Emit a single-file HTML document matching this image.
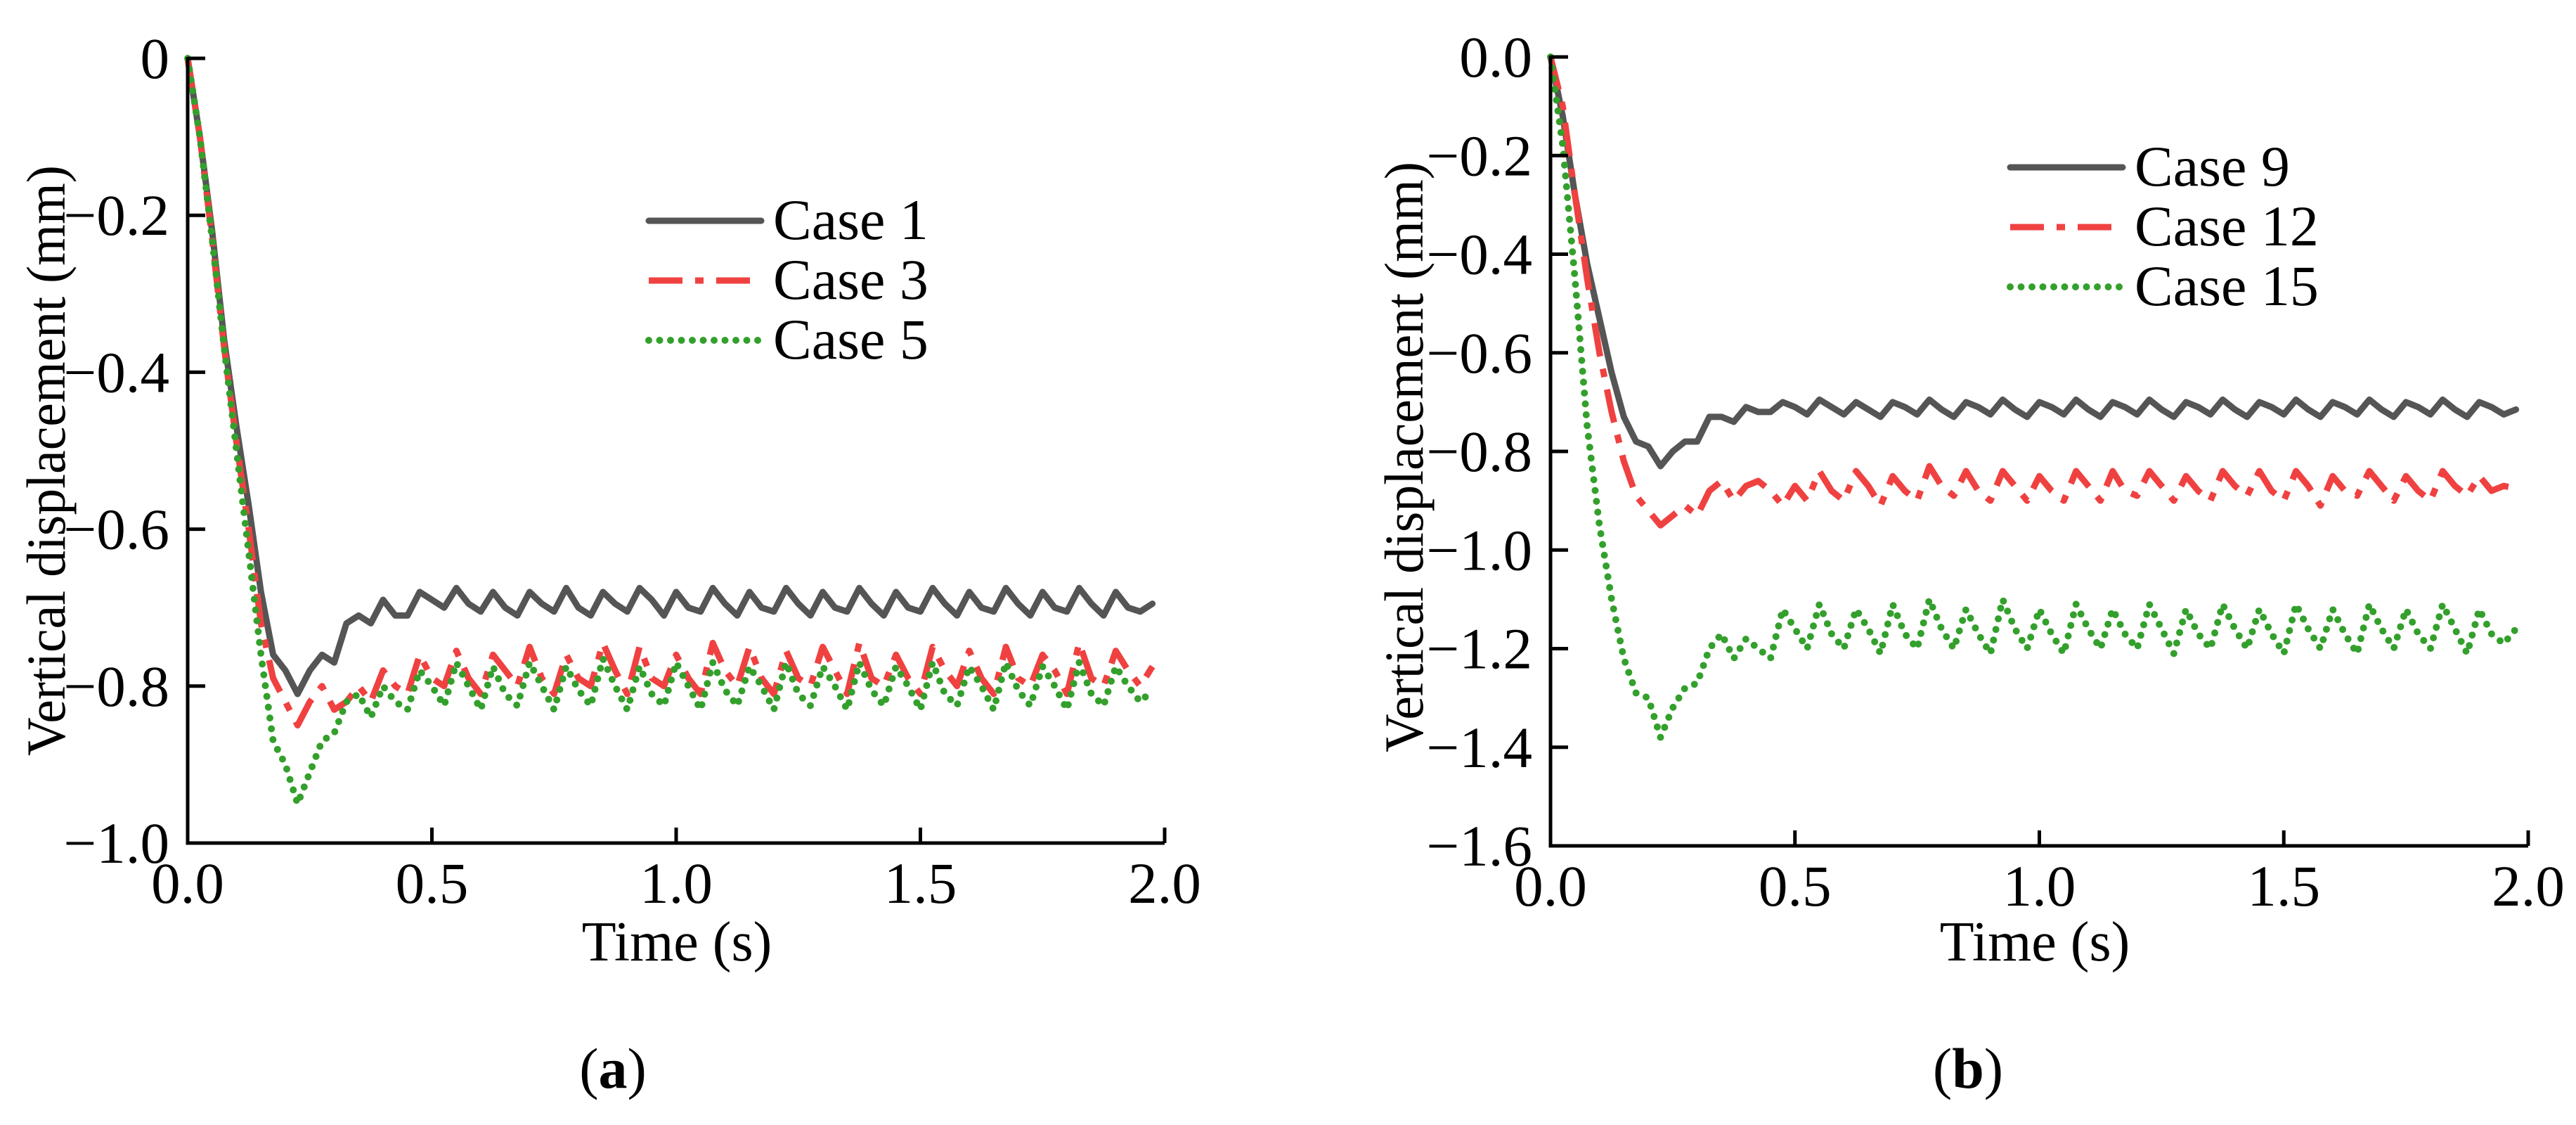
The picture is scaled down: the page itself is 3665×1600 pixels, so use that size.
<!DOCTYPE html>
<html><head><meta charset="utf-8">
<style>
html,body{margin:0;padding:0;background:#fff;}
svg{display:block;font-family:"Liberation Serif","Times New Roman",serif;}
</style></head>
<body>
<svg id="fig" width="3665" height="1600" viewBox="0 0 3665 1600" xmlns="http://www.w3.org/2000/svg"></svg>
<script>
const times = [0,0.025,0.05,0.075,0.1,0.125,0.15,0.175,0.2,0.225,0.25,0.275,0.3,0.325,0.35,0.375,0.4,0.425,0.45,0.475,
0.5,0.525,0.55,0.575,0.6,0.625,0.65,0.675,0.7,0.725,0.75,0.775,0.8,0.825,0.85,0.875,0.9,0.925,0.95,0.975,
1.0,1.025,1.05,1.075,1.1,1.125,1.15,1.175,1.2,1.225,1.25,1.275,1.3,1.325,1.35,1.375,1.4,1.425,1.45,1.475,
1.5,1.525,1.55,1.575,1.6,1.625,1.65,1.675,1.7,1.725,1.75,1.775,1.8,1.825,1.85,1.875,1.9,1.925,1.95,1.975];

const case1 = [0,-0.10,-0.22,-0.36,-0.47,-0.57,-0.68,-0.76,-0.78,-0.81,-0.78,-0.76,-0.77,-0.72,-0.71,-0.72,-0.69,-0.71,-0.71,-0.68,
-0.69,-0.70,-0.675,-0.695,-0.705,-0.68,-0.70,-0.71,-0.68,-0.695,-0.705,-0.675,-0.70,-0.71,-0.68,-0.695,-0.705,-0.675,-0.69,-0.71,
-0.68,-0.70,-0.705,-0.675,-0.695,-0.71,-0.68,-0.70,-0.705,-0.675,-0.695,-0.71,-0.68,-0.70,-0.705,-0.675,-0.695,-0.71,-0.68,-0.70,
-0.705,-0.675,-0.695,-0.71,-0.68,-0.70,-0.705,-0.675,-0.695,-0.71,-0.68,-0.70,-0.705,-0.675,-0.695,-0.71,-0.68,-0.70,-0.705,-0.695];

const case3 = [0,-0.10,-0.23,-0.37,-0.49,-0.60,-0.72,-0.79,-0.82,-0.85,-0.82,-0.80,-0.83,-0.82,-0.80,-0.82,-0.78,-0.80,-0.81,-0.76,
-0.79,-0.80,-0.755,-0.79,-0.81,-0.76,-0.78,-0.80,-0.75,-0.79,-0.81,-0.76,-0.79,-0.80,-0.745,-0.78,-0.81,-0.75,-0.79,-0.80,
-0.76,-0.79,-0.81,-0.745,-0.78,-0.80,-0.75,-0.79,-0.81,-0.755,-0.79,-0.80,-0.75,-0.78,-0.81,-0.745,-0.79,-0.80,-0.76,-0.79,
-0.81,-0.75,-0.78,-0.80,-0.755,-0.79,-0.81,-0.75,-0.79,-0.80,-0.76,-0.78,-0.81,-0.745,-0.79,-0.80,-0.755,-0.78,-0.80,-0.775];

const case5 = [0,-0.10,-0.23,-0.37,-0.50,-0.63,-0.76,-0.87,-0.90,-0.95,-0.91,-0.87,-0.86,-0.82,-0.81,-0.84,-0.80,-0.82,-0.83,-0.78,
-0.80,-0.825,-0.77,-0.80,-0.83,-0.775,-0.81,-0.825,-0.77,-0.80,-0.83,-0.775,-0.805,-0.825,-0.765,-0.80,-0.83,-0.775,-0.81,-0.825,
-0.77,-0.80,-0.83,-0.77,-0.805,-0.825,-0.775,-0.80,-0.83,-0.77,-0.81,-0.825,-0.775,-0.80,-0.83,-0.77,-0.805,-0.825,-0.775,-0.80,
-0.83,-0.77,-0.81,-0.825,-0.775,-0.80,-0.83,-0.77,-0.805,-0.825,-0.775,-0.80,-0.83,-0.77,-0.81,-0.825,-0.775,-0.80,-0.82,-0.805];

const case9 = [0,-0.12,-0.28,-0.42,-0.53,-0.64,-0.73,-0.78,-0.79,-0.83,-0.80,-0.78,-0.78,-0.73,-0.73,-0.74,-0.71,-0.72,-0.72,-0.70,
-0.71,-0.725,-0.695,-0.71,-0.725,-0.70,-0.715,-0.73,-0.70,-0.71,-0.725,-0.695,-0.715,-0.73,-0.70,-0.71,-0.725,-0.695,-0.715,-0.73,
-0.70,-0.71,-0.725,-0.695,-0.715,-0.73,-0.70,-0.71,-0.725,-0.695,-0.715,-0.73,-0.70,-0.71,-0.725,-0.695,-0.715,-0.73,-0.70,-0.71,
-0.725,-0.695,-0.715,-0.73,-0.70,-0.71,-0.725,-0.695,-0.715,-0.73,-0.70,-0.71,-0.725,-0.695,-0.715,-0.73,-0.70,-0.71,-0.725,-0.715];

const case12 = [0,-0.10,-0.28,-0.45,-0.60,-0.72,-0.82,-0.89,-0.92,-0.95,-0.93,-0.91,-0.93,-0.88,-0.86,-0.90,-0.87,-0.86,-0.88,-0.91,
-0.87,-0.90,-0.84,-0.88,-0.90,-0.84,-0.87,-0.91,-0.85,-0.88,-0.90,-0.83,-0.87,-0.89,-0.84,-0.88,-0.90,-0.84,-0.87,-0.90,
-0.85,-0.88,-0.90,-0.84,-0.87,-0.90,-0.84,-0.88,-0.89,-0.84,-0.87,-0.90,-0.85,-0.88,-0.90,-0.84,-0.87,-0.89,-0.84,-0.88,
-0.90,-0.84,-0.87,-0.91,-0.85,-0.88,-0.89,-0.84,-0.87,-0.90,-0.85,-0.88,-0.90,-0.84,-0.87,-0.89,-0.85,-0.88,-0.87,-0.875];

const case15 = [0,-0.18,-0.45,-0.75,-0.95,-1.10,-1.22,-1.29,-1.30,-1.38,-1.32,-1.28,-1.27,-1.20,-1.17,-1.22,-1.18,-1.20,-1.22,-1.12,
-1.16,-1.20,-1.11,-1.17,-1.20,-1.12,-1.16,-1.21,-1.11,-1.17,-1.20,-1.10,-1.16,-1.20,-1.12,-1.17,-1.21,-1.10,-1.16,-1.20,
-1.12,-1.17,-1.21,-1.11,-1.16,-1.20,-1.12,-1.17,-1.20,-1.11,-1.16,-1.21,-1.12,-1.17,-1.20,-1.11,-1.16,-1.20,-1.12,-1.17,
-1.21,-1.11,-1.16,-1.20,-1.12,-1.17,-1.21,-1.11,-1.16,-1.20,-1.12,-1.17,-1.20,-1.11,-1.16,-1.21,-1.12,-1.17,-1.19,-1.16];

const xTicks = [0, 0.5, 1.0, 1.5, 2.0];
const xTickLabels = ["0.0","0.5","1.0","1.5","2.0"];
const yTicksA = [0,-0.2,-0.4,-0.6,-0.8,-1.0];
const yTickLabelsA = ["0","\u22120.2","\u22120.4","\u22120.6","\u22120.8","\u22121.0"];
const yTicksB = [0,-0.2,-0.4,-0.6,-0.8,-1.0,-1.2,-1.4,-1.6];
const yTickLabelsB = ["0.0","\u22120.2","\u22120.4","\u22120.6","\u22120.8","\u22121.0","\u22121.2","\u22121.4","\u22121.6"];
const legendA = ["Case 1","Case 3","Case 5"];
const legendB = ["Case 9","Case 12","Case 15"];

const NS = "http://www.w3.org/2000/svg";
const svg = document.getElementById('fig');
function mk(tag, attrs, parent){
  const e = document.createElementNS(NS, tag);
  for (const k in attrs) e.setAttribute(k, attrs[k]);
  (parent||svg).appendChild(e);
  return e;
}
const styles = [
  {stroke:"#555555", dash:null, cap:"round"},
  {stroke:"#f04141", dash:"48 18 12 18", cap:"butt"},
  {stroke:"#33a02c", dash:"0 15.5", cap:"round"}
];

function panel(cfg){
  const g = mk('g', {});
  
  
  const X = t => cfg.x0 + (t - 0) / 2.0 * (cfg.x1 - cfg.x0);
  const Y = v => cfg.y0 + (v - 0) / cfg.ymin * (cfg.y1 - cfg.y0);
  cfg.series.forEach((vals, si) => {
    let d = "";
    vals.forEach((v, i) => { d += (i ? "L" : "M") + X(times[i]).toFixed(1) + " " + Y(v).toFixed(1); });
    const st = styles[si];
    const p = mk('path', {d: d, fill: "none", stroke: st.stroke, "stroke-width": si === 2 ? 10 : 9,
      "stroke-linejoin": "round", "stroke-linecap": st.cap}, g);
    if (st.dash) p.setAttribute('stroke-dasharray', st.dash);
    
    
  });
  const ax = mk('path', {d: `M${cfg.x0} ${cfg.y0-2}V${cfg.y1}H${cfg.x1}`, fill: "none", stroke: "#000", "stroke-width": 5}, g);
  
  
  cfg.yTicks.forEach((v, i) => {
    const y = Y(v);
    const t = mk('line', {x1: cfg.x0, x2: cfg.x0 + 25, y1: y, y2: y, stroke: "#000", "stroke-width": 5}, g);
    
    
    const lb = mk('text', {x: cfg.x0 - 26, y: y + 28, "text-anchor": "end", "font-size": 83}, g);
    lb.textContent = cfg.yLabels[i];
    
    
  });
  xTicks.forEach((v, i) => {
    const x = X(v);
    const t = mk('line', {x1: x, x2: x, y1: cfg.y1, y2: cfg.y1 - 22, stroke: "#000", "stroke-width": 5}, g);
    
    
    const lb = mk('text', {x: x, y: cfg.y1 + 85, "text-anchor": "middle", "font-size": 83}, g);
    lb.textContent = xTickLabels[i];
    
    
  });
  const xt = mk('text', {x: cfg.xTitleX, y: 1366, "text-anchor": "middle", "font-size": 80}, g);
  xt.textContent = "Time (s)";
  
  
  const yt = mk('text', {x: 0, y: 0, "text-anchor": "middle", "font-size": 78,
    transform: `translate(${cfg.yTitleX},${cfg.yTitleY}) rotate(-90)`, textLength: 840, lengthAdjust: "spacingAndGlyphs"}, g);
  yt.textContent = "Vertical displacement (mm)";
  
  
  cfg.legend.forEach((name, i) => {
    const ly = cfg.legY + i * 85;
    const st = styles[i];
    const ln = mk('line', {x1: cfg.legX, x2: cfg.legX + 160, y1: ly, y2: ly, stroke: st.stroke,
      "stroke-width": i === 2 ? 10 : 9, "stroke-linecap": st.cap}, g);
    if (st.dash) ln.setAttribute('stroke-dasharray', st.dash);
    
    
    const tx = mk('text', {x: cfg.legX + 177, y: ly + 26, "font-size": 82}, g);
    tx.textContent = name;
    
    
  });
  const pl = mk('text', {x: cfg.labX, y: 1547, "text-anchor": "middle", "font-size": 82}, g);
  
  
  const o = document.createElementNS(NS, 'tspan'); o.textContent = "("; pl.appendChild(o);
  const b = document.createElementNS(NS, 'tspan'); b.setAttribute('font-weight', 'bold'); b.textContent = cfg.lab; pl.appendChild(b);
  const c = document.createElementNS(NS, 'tspan'); c.textContent = ")"; pl.appendChild(c);
}

panel({name: "panel-a", x0: 267, x1: 1657, y0: 83, y1: 1199, ymin: -1.0,
  yTicks: yTicksA, yLabels: yTickLabelsA, series: [case1, case3, case5], legend: legendA,
  legX: 923, legY: 314, xTitleX: 963, yTitleX: 92, yTitleY: 655, labX: 872, lab: "a"});
panel({name: "panel-b", x0: 2206, x1: 3597, y0: 81, y1: 1203, ymin: -1.6,
  yTicks: yTicksB, yLabels: yTickLabelsB, series: [case9, case12, case15], legend: legendB,
  legX: 2860, legY: 238, xTitleX: 2895, yTitleX: 2024, yTitleY: 650, labX: 2800, lab: "b"});
</script>
</body></html>
